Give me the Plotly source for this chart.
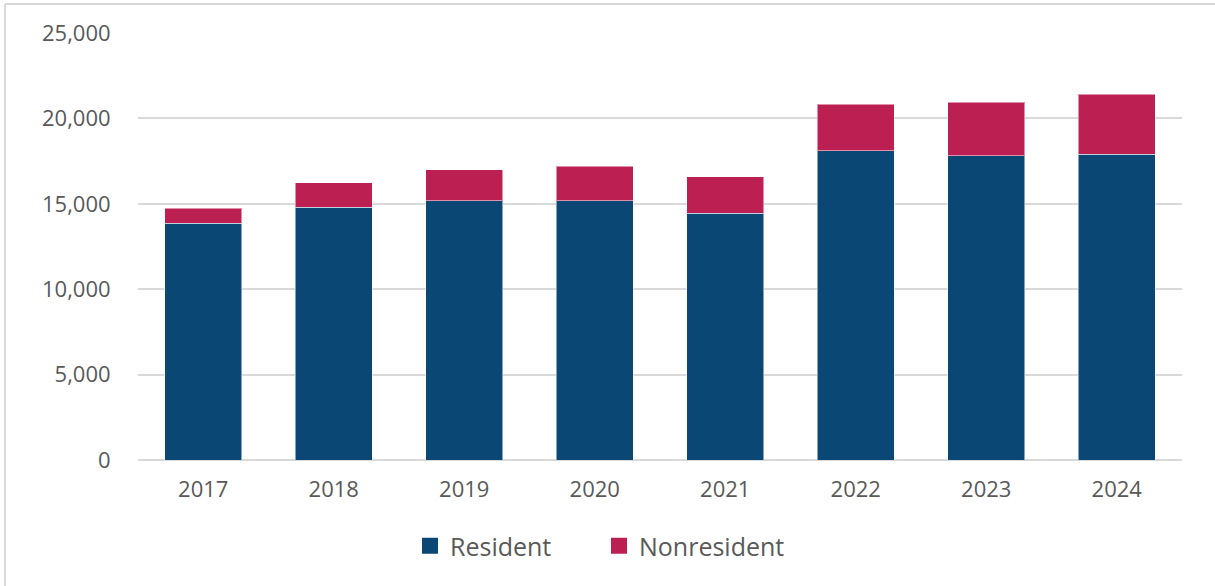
import plotly.graph_objects as go

years = ["2017", "2018", "2019", "2020", "2021", "2022", "2023", "2024"]
resident = [13860, 14810, 15180, 15180, 14440, 18110, 17820, 17900]
nonresident = [880, 1425, 1800, 2015, 2145, 2715, 3125, 3510]
y_ticks = [0, 5000, 10000, 15000, 20000, 25000]
series_names = ["Resident", "Nonresident"]

BLUE = "#0B4775"
RED = "#BC1F52"
GRID = "#D9D9D9"
TXT = "#595959"
FONT = "Open Sans"

W, H = 1215, 586
L, T = 138, 33
R = W - 1182
B = H - 460
pw, ph = W - L - R, H - T - B

def px_x(p):
    return (p - L) / pw

def px_y(p):
    return (H - B - p) / ph

fig = go.Figure()
for name, vals, col in [(series_names[0], resident, BLUE), (series_names[1], nonresident, RED)]:
    fig.add_trace(go.Bar(x=years, y=vals, name=name, showlegend=False, legendgroup=name,
                         marker=dict(color=col, line=dict(color="rgba(255,255,255,0.5)", width=1))))
for name, col, lg in [(series_names[0], BLUE, "legend"), (series_names[1], RED, "legend2")]:
    fig.add_trace(go.Scatter(x=[None], y=[None], mode="markers", name=name, legendgroup=name,
                             legend=lg, marker=dict(symbol="square", size=19, color=col)))

leg_common = dict(orientation="h", yanchor="middle", y=px_y(546), xanchor="left",
                  font=dict(size=25, color=TXT, family=FONT), itemwidth=30,
                  bgcolor="rgba(0,0,0,0)")

fig.update_layout(
    width=W, height=H,
    barmode="stack", bargap=0.41,
    plot_bgcolor="white", paper_bgcolor="white",
    margin=dict(l=L, r=R, t=T, b=B, autoexpand=False),
    font=dict(family=FONT, color=TXT, size=22),
    xaxis=dict(showgrid=False, showline=False, ticks="outside", ticklen=10,
               tickcolor="rgba(0,0,0,0)", tickfont=dict(size=22, color=TXT)),
    yaxis=dict(range=[0, 25000], tickvals=y_ticks, tickformat=",d",
               showgrid=True, gridcolor=GRID, gridwidth=1.5,
               zeroline=True, zerolinecolor=GRID, zerolinewidth=1.5,
               ticks="outside", ticklen=22, tickcolor="rgba(0,0,0,0)",
               tickfont=dict(size=22, color=TXT)),
    legend=dict(leg_common, x=px_x(410)),
    legend2=dict(leg_common, x=px_x(599)),
    shapes=[
        dict(type="line", xref="paper", yref="paper", x0=px_x(5), x1=px_x(1215),
             y0=px_y(4), y1=px_y(4), line=dict(color=GRID, width=2)),
        dict(type="line", xref="paper", yref="paper", x0=px_x(5), x1=px_x(5),
             y0=px_y(4), y1=px_y(586), line=dict(color=GRID, width=2)),
    ],
)

fig.write_html("out.html", config={"displayModeBar": False},
               post_script="document.body.style.margin='0px';")
